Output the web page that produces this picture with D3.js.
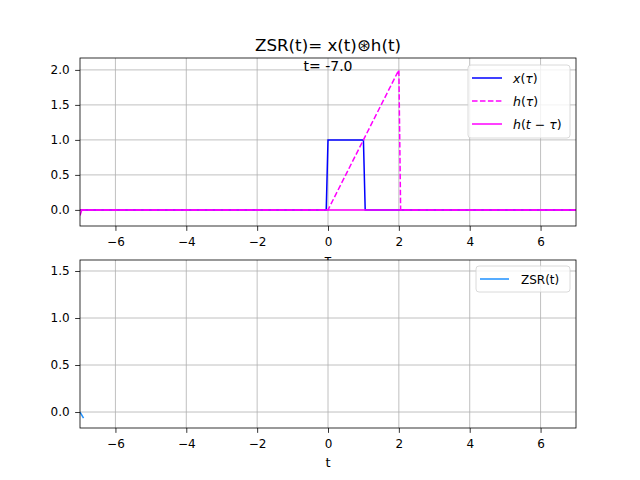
<!DOCTYPE html>
<html>
<head>
<meta charset="utf-8">
<script src="https://cdn.jsdelivr.net/npm/d3@7"></script>
<style>
  body { margin: 0; background: #fff; }
  svg { font-family: "DejaVu Sans", sans-serif; }
</style>
</head>
<body>
<div id="chart"></div>
<script>
// ---- data (t = -7.0 frame) ----
const tauX = [-7, -0.05, 0, 1, 1.05, 7];
const xVals = [0, 0, 1, 1, 0, 0];
const tauH = [-7, 0, 2, 2.05, 7];
const hVals = [0, 0, 2, 0, 0];
const tauShift = [-7, -6.95, 7];
const hShiftVals = [-0.08, 0, 0];
const tZsr = [-7, -6.9];
const zsrVals = [0, -0.065];

const xTicks = [-6, -4, -2, 0, 2, 4, 6];
const topYTicks = [0, 0.5, 1, 1.5, 2];
const botYTicks = [0, 0.5, 1, 1.5];

const W = 640, H = 480;
const left = 80, right = 576;

const svg = d3.select("#chart").append("svg")
  .attr("width", W).attr("height", H);

const x = d3.scaleLinear().domain([-7, 7]).range([left, right]);
const yTop = d3.scaleLinear().domain([-0.23, 2.17]).range([226, 58]);
const yBot = d3.scaleLinear().domain([-0.17, 1.617]).range([428, 260]);

const pts = (xs, ys) => xs.map((v, i) => [v, ys[i]]);

function drawAxes(y, yTicks, fmt, xlabel, labelY) {
  let g = svg.append("g");
  let [y0, y1] = y.range();
  g.append("rect").attr("x", left).attr("y", y1)
    .attr("width", right - left).attr("height", y0 - y1).attr("fill", "#fff");
  // grid
  g.selectAll(".gx").data(xTicks).join("line")
    .attr("x1", d => x(d)).attr("x2", d => x(d))
    .attr("y1", y1).attr("y2", y0)
    .attr("stroke", "#b0b0b0").attr("stroke-width", 0.8);
  g.selectAll(".gy").data(yTicks).join("line")
    .attr("x1", left).attr("x2", right)
    .attr("y1", d => y(d)).attr("y2", d => y(d))
    .attr("stroke", "#b0b0b0").attr("stroke-width", 0.8);

  let xa = g.append("g").attr("transform", "translate(0," + y0 + ")")
    .call(d3.axisBottom(x).tickValues(xTicks).tickSize(4.86).tickPadding(4.86)
      .tickFormat(d => d < 0 ? "\u2212" + Math.abs(d) : d));
  let ya = g.append("g").attr("transform", "translate(" + left + ",0)")
    .call(d3.axisLeft(y).tickValues(yTicks).tickSize(4.86).tickPadding(5.5).tickFormat(fmt));
  [xa, ya].forEach(a => {
    a.select(".domain").remove();
    a.selectAll("text").attr("font-size", 12).attr("fill", "#000")
      .attr("font-family", "DejaVu Sans");
    a.selectAll("line").attr("stroke", "#000").attr("stroke-width", 0.8);
  });
  xa.selectAll("text").attr("dy", "0.88em");
  g.append("text").attr("x", (left + right) / 2).attr("y", labelY)
    .attr("text-anchor", "middle").attr("font-size", 13).text(xlabel);
  return g;
}

function frame(g, y) {
  let [y0, y1] = y.range();
  g.append("rect").attr("x", left).attr("y", y1)
    .attr("width", right - left).attr("height", y0 - y1)
    .attr("fill", "none").attr("stroke", "#000").attr("stroke-width", 0.8);
}

function clipFor(id, y) {
  let [y0, y1] = y.range();
  svg.append("clipPath").attr("id", id).append("rect")
    .attr("x", left).attr("y", y1).attr("width", right - left).attr("height", y0 - y1);
}

// ---------- top axes ----------
const gTop = drawAxes(yTop, topYTicks, d3.format(".1f"), "\u03c4", 264);
clipFor("clipTop", yTop);
const lineTop = d3.line().x(d => x(d[0])).y(d => yTop(d[1]));
const pTop = gTop.append("g").attr("clip-path", "url(#clipTop)");
pTop.append("path").attr("d", lineTop(pts(tauX, xVals)))
  .attr("fill", "none").attr("stroke", "#0000ff").attr("stroke-width", 1.5);
pTop.append("path").attr("d", lineTop(pts(tauH, hVals)))
  .attr("fill", "none").attr("stroke", "#ff00ff").attr("stroke-width", 1.5)
  .attr("stroke-dasharray", "5.55,2.4");
pTop.append("path").attr("d", lineTop(pts(tauShift, hShiftVals)))
  .attr("fill", "none").attr("stroke", "#ff00ff").attr("stroke-width", 1.5);
frame(gTop, yTop);

gTop.append("text").attr("x", x(0)).attr("y", 71)
  .attr("text-anchor", "middle").attr("font-size", 14).text("t= -7.0");
svg.append("text").attr("x", (left + right) / 2).attr("y", 51)
  .attr("text-anchor", "middle").attr("font-size", 16.7).text("ZSR(t)= x(t)\u229bh(t)");

// top legend
const legTop = gTop.append("g");
legTop.append("rect").attr("x", 468).attr("y", 65).attr("width", 102).attr("height", 73)
  .attr("rx", 3).attr("fill", "#fff").attr("fill-opacity", 0.8)
  .attr("stroke", "#d0d0d0").attr("stroke-width", 0.8);
const topItems = [
  { parts: [["x", 1], ["(", 0], ["\u03c4", 1], [")", 0]], color: "#0000ff", dash: null },
  { parts: [["h", 1], ["(", 0], ["\u03c4", 1], [")", 0]], color: "#ff00ff", dash: "5.55,2.4" },
  { parts: [["h", 1], ["(", 0], ["t", 1], [" \u2212 ", 0], ["\u03c4", 1], [")", 0]], color: "#ff00ff", dash: null }
];
topItems.forEach((it, i) => {
  let yy = 78 + i * 23;
  legTop.append("line").attr("x1", 472).attr("x2", 502).attr("y1", yy).attr("y2", yy)
    .attr("stroke", it.color).attr("stroke-width", 1.5)
    .attr("stroke-dasharray", it.dash);
  let t = legTop.append("text").attr("x", 513).attr("y", yy + 4.5).attr("font-size", 12.5);
  it.parts.forEach(p => t.append("tspan").attr("font-style", p[1] ? "italic" : "normal").text(p[0]));
});

// ---------- bottom axes ----------
const gBot = drawAxes(yBot, botYTicks, d3.format(".1f"), "t", 467);
clipFor("clipBot", yBot);
const lineBot = d3.line().x(d => x(d[0])).y(d => yBot(d[1]));
gBot.append("g").attr("clip-path", "url(#clipBot)")
  .append("path").attr("d", lineBot(pts(tZsr, zsrVals)))
  .attr("fill", "none").attr("stroke", "#1e90ff").attr("stroke-width", 1.5);
frame(gBot, yBot);

const legBot = gBot.append("g");
legBot.append("rect").attr("x", 476).attr("y", 266).attr("width", 94).attr("height", 26)
  .attr("rx", 3).attr("fill", "#fff").attr("fill-opacity", 0.8)
  .attr("stroke", "#d0d0d0").attr("stroke-width", 0.8);
legBot.append("line").attr("x1", 480).attr("x2", 509).attr("y1", 279).attr("y2", 279)
  .attr("stroke", "#1e90ff").attr("stroke-width", 1.5);
legBot.append("text").attr("x", 521).attr("y", 283.5).attr("font-size", 12).text("ZSR(t)");
</script>
</body>
</html>
